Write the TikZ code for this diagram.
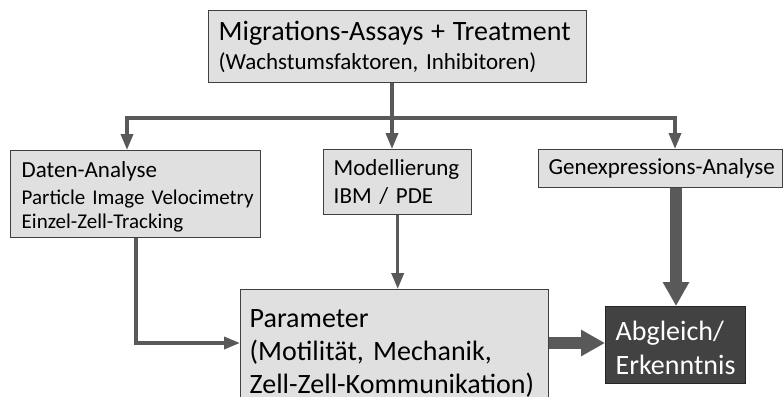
\documentclass[tikz,border=0pt]{standalone}
\usepackage{fontspec}
\setmainfont{Carlito}
\usetikzlibrary{arrows.meta}
\definecolor{boxfill}{HTML}{E0E0E0}
\definecolor{boxline}{HTML}{404040}
\definecolor{connc}{HTML}{595959}
\definecolor{darkfill}{HTML}{424242}
\definecolor{darkline}{HTML}{262626}
\begin{document}
\frenchspacing
\begin{tikzpicture}[x=1pt,y=-1pt,
  box/.style={draw=boxline, fill=boxfill, line width=1.4pt, anchor=north west,
    inner ysep=0pt, inner xsep=10pt, align=left},
  darkbox/.style={box, fill=darkfill, draw=darkline, text=white},
  smallconn/.style={draw=connc, line width=3.5pt, -{Triangle[width=12pt,length=16pt]}},
  bigconn/.style={draw=connc, line width=12pt, -{Triangle[width=25pt,length=24pt]}},
  plainconn/.style={draw=connc, line width=3.5pt}]
\clip (0,0) rectangle (783,396);
\fill[white] (0,0) rectangle (783,396);

\node[box, minimum width=378pt, minimum height=72pt, text width=358pt,
  font=\fontsize{23}{29}\selectfont] (top) at (208,10)
  {\mbox{\fontsize{28}{29}\selectfont Migrations-Assays + Treatment}\\
   \mbox{(Wachstumsfaktoren, Inhibitoren)}};

\node[box, minimum width=250pt, minimum height=87pt, inner xsep=11pt, text width=228pt,
  font=\fontsize{21}{24.5}\selectfont] (daten) at (10,150)
  {\mbox{\rule{0pt}{21pt}\fontsize{23}{28}\selectfont Daten-Analyse}\\[2.5pt]
   \mbox{Particle Image Velocimetry}\\
   \mbox{Einzel-Zell-Tracking}};

\node[box, minimum width=148pt, minimum height=65pt, inner xsep=10pt, text width=128pt,
  font=\fontsize{23}{28}\selectfont] (model) at (323,149)
  {\mbox{Modellierung}\\ \mbox{IBM / PDE}};

\node[box, minimum width=244pt, minimum height=38pt, text width=224pt,
  font=\fontsize{23}{28}\selectfont] (gen) at (538,149)
  {\mbox{Genexpressions-Analyse}};

\node[box, minimum width=308pt, minimum height=128pt, inner xsep=9pt, text width=290pt,
  font=\fontsize{28}{33}\selectfont] (param) at (240,289)
  {\mbox{Parameter}\\ \mbox{(Motilität, Mechanik,}\\ \mbox{Zell-Zell-Kommunikation)}};

\node[darkbox, minimum width=140pt, minimum height=77pt, text width=120pt,
  font=\fontsize{28}{34}\selectfont] (abg) at (605,306)
  {\mbox{\rule{0pt}{24pt}Abgleich/}\\ \mbox{Erkenntnis}};

\coordinate (hub) at (392,118);
\coordinate (hl) at (127,118);
\coordinate (hr) at (675,118);
\coordinate (dc) at (136,0);
\coordinate (py) at (0,343);
\coordinate (gx) at (676,0);

\draw[plainconn] (top.south -| hub) -- (hub);
\draw[plainconn, {Triangle[width=12pt,length=16pt]}-{Triangle[width=12pt,length=16pt]}]
  (daten.north -| hl) -- (hl) -- (hr) -- (gen.north -| hr);
\draw[smallconn] (hub) -- (hub |- model.north);
\draw[smallconn] (daten.south -| dc) |- (param.west |- py);
\draw[smallconn] (model.south) -- (model.south |- param.north);
\draw[bigconn] (gen.south -| gx) -- (abg.north -| gx);
\draw[bigconn] (param.east |- py) -- (abg.west |- py);
\end{tikzpicture}
\end{document}
